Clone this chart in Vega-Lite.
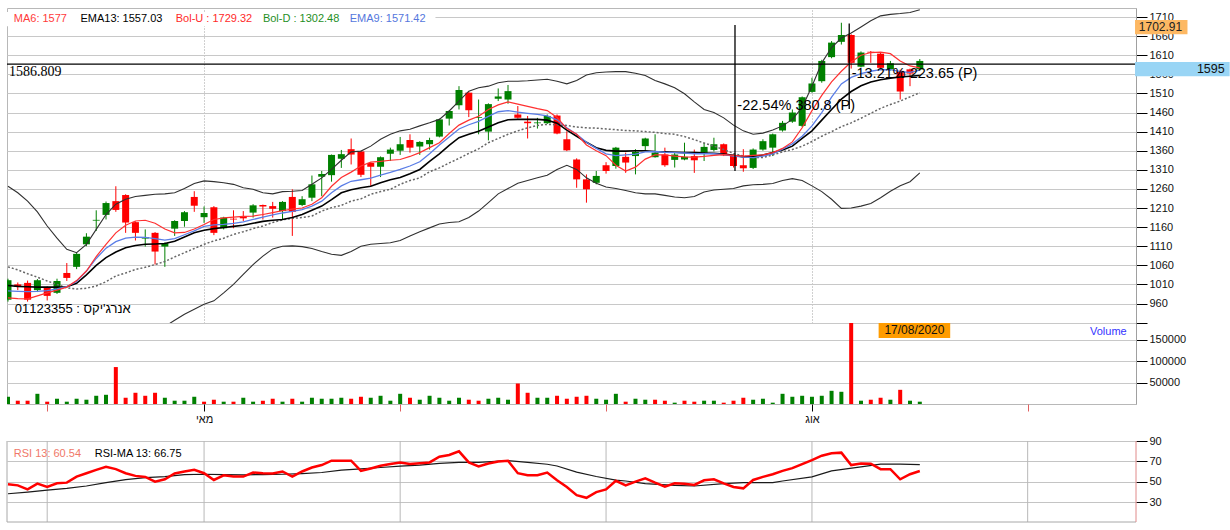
{
"$schema":"https://vega.github.io/schema/vega-lite/v6.json",
"background":"#ffffff",
"padding":{"left":2,"top":7,"right":0,"bottom":0},
"config":{"font":"Liberation Sans","view":{"stroke":"#b8b8b8"}},
"datasets":{
"one":[{"k":1}],
"bars":[
{"i":0,"o":970,"h":1025,"l":965,"c":1021,"v":16900,"vu":1},
{"i":1,"o":1010,"h":1015,"l":995,"c":1004,"v":7700,"vu":0},
{"i":2,"o":1014,"h":1020,"l":965,"c":970,"v":7700,"vu":0},
{"i":3,"o":995,"h":1024,"l":990,"c":1021,"v":23800,"vu":1},
{"i":4,"o":1001,"h":1005,"l":968,"c":980,"v":5400,"vu":0},
{"i":5,"o":988,"h":1025,"l":985,"c":1019,"v":12300,"vu":1},
{"i":6,"o":1040,"h":1066,"l":1019,"c":1027,"v":5400,"vu":1},
{"i":7,"o":1056,"h":1092,"l":1050,"c":1090,"v":12300,"vu":1},
{"i":8,"o":1115,"h":1144,"l":1110,"c":1135,"v":10000,"vu":1},
{"i":9,"o":1177,"h":1204,"l":1150,"c":1179,"v":19200,"vu":1},
{"i":10,"o":1192,"h":1227,"l":1180,"c":1223,"v":21500,"vu":1},
{"i":11,"o":1228,"h":1267,"l":1200,"c":1205,"v":86200,"vu":0},
{"i":12,"o":1244,"h":1246,"l":1145,"c":1172,"v":14600,"vu":0},
{"i":13,"o":1173,"h":1175,"l":1125,"c":1145,"v":26200,"vu":0},
{"i":14,"o":1130,"h":1154,"l":1109,"c":1134,"v":19200,"vu":0},
{"i":15,"o":1145,"h":1147,"l":1062,"c":1096,"v":26200,"vu":0},
{"i":16,"o":1109,"h":1120,"l":1056,"c":1118,"v":14600,"vu":1},
{"i":17,"o":1156,"h":1178,"l":1137,"c":1176,"v":7700,"vu":1},
{"i":18,"o":1176,"h":1202,"l":1161,"c":1199,"v":7700,"vu":1},
{"i":19,"o":1239,"h":1254,"l":1200,"c":1216,"v":16900,"vu":1},
{"i":20,"o":1186,"h":1214,"l":1171,"c":1197,"v":5400,"vu":0},
{"i":21,"o":1212,"h":1215,"l":1139,"c":1145,"v":10000,"vu":0},
{"i":22,"o":1157,"h":1187,"l":1154,"c":1185,"v":5400,"vu":1},
{"i":23,"o":1182,"h":1204,"l":1157,"c":1180,"v":5400,"vu":0},
{"i":24,"o":1189,"h":1202,"l":1176,"c":1183,"v":14600,"vu":1},
{"i":25,"o":1198,"h":1220,"l":1185,"c":1217,"v":5400,"vu":1},
{"i":26,"o":1218,"h":1219,"l":1180,"c":1214,"v":7700,"vu":0},
{"i":27,"o":1215,"h":1226,"l":1185,"c":1208,"v":12300,"vu":0},
{"i":28,"o":1202,"h":1228,"l":1180,"c":1226,"v":5400,"vu":1},
{"i":29,"o":1239,"h":1259,"l":1137,"c":1200,"v":12300,"vu":0},
{"i":30,"o":1218,"h":1241,"l":1215,"c":1233,"v":5400,"vu":1},
{"i":31,"o":1237,"h":1295,"l":1228,"c":1272,"v":14600,"vu":1},
{"i":32,"o":1292,"h":1307,"l":1241,"c":1299,"v":12300,"vu":1},
{"i":33,"o":1296,"h":1350,"l":1279,"c":1349,"v":12300,"vu":1},
{"i":34,"o":1339,"h":1362,"l":1315,"c":1351,"v":14600,"vu":1},
{"i":35,"o":1364,"h":1392,"l":1324,"c":1350,"v":12300,"vu":0},
{"i":36,"o":1358,"h":1360,"l":1291,"c":1297,"v":16900,"vu":0},
{"i":37,"o":1328,"h":1330,"l":1268,"c":1318,"v":14600,"vu":1},
{"i":38,"o":1318,"h":1345,"l":1291,"c":1343,"v":19200,"vu":1},
{"i":39,"o":1352,"h":1368,"l":1333,"c":1363,"v":7700,"vu":1},
{"i":40,"o":1360,"h":1396,"l":1349,"c":1377,"v":23800,"vu":1},
{"i":41,"o":1388,"h":1403,"l":1355,"c":1368,"v":14600,"vu":0},
{"i":42,"o":1371,"h":1385,"l":1349,"c":1383,"v":10000,"vu":1},
{"i":43,"o":1377,"h":1394,"l":1363,"c":1388,"v":19200,"vu":1},
{"i":44,"o":1397,"h":1444,"l":1395,"c":1442,"v":14600,"vu":1},
{"i":45,"o":1444,"h":1466,"l":1426,"c":1464,"v":7700,"vu":1},
{"i":46,"o":1479,"h":1529,"l":1468,"c":1519,"v":14600,"vu":1},
{"i":47,"o":1512,"h":1515,"l":1448,"c":1466,"v":10000,"vu":0},
{"i":48,"o":1446,"h":1494,"l":1403,"c":1448,"v":7700,"vu":0},
{"i":49,"o":1410,"h":1484,"l":1387,"c":1482,"v":12300,"vu":1},
{"i":50,"o":1496,"h":1523,"l":1490,"c":1502,"v":14600,"vu":1},
{"i":51,"o":1494,"h":1532,"l":1483,"c":1516,"v":10000,"vu":1},
{"i":52,"o":1455,"h":1477,"l":1444,"c":1446,"v":47700,"vu":0},
{"i":53,"o":1436,"h":1451,"l":1392,"c":1432,"v":26200,"vu":0},
{"i":54,"o":1432,"h":1446,"l":1418,"c":1434,"v":14600,"vu":1},
{"i":55,"o":1432,"h":1455,"l":1430,"c":1451,"v":14600,"vu":1},
{"i":56,"o":1452,"h":1455,"l":1403,"c":1405,"v":19200,"vu":0},
{"i":57,"o":1390,"h":1411,"l":1359,"c":1361,"v":12300,"vu":0},
{"i":58,"o":1337,"h":1340,"l":1263,"c":1285,"v":16900,"vu":0},
{"i":59,"o":1285,"h":1298,"l":1224,"c":1259,"v":19200,"vu":0},
{"i":60,"o":1276,"h":1307,"l":1272,"c":1294,"v":12300,"vu":1},
{"i":61,"o":1322,"h":1330,"l":1300,"c":1307,"v":10000,"vu":1},
{"i":62,"o":1320,"h":1370,"l":1313,"c":1368,"v":23800,"vu":1},
{"i":63,"o":1344,"h":1355,"l":1302,"c":1329,"v":5400,"vu":0},
{"i":64,"o":1346,"h":1364,"l":1298,"c":1357,"v":12300,"vu":1},
{"i":65,"o":1372,"h":1394,"l":1359,"c":1392,"v":10000,"vu":1},
{"i":66,"o":1343,"h":1403,"l":1342,"c":1355,"v":10000,"vu":0},
{"i":67,"o":1350,"h":1368,"l":1318,"c":1322,"v":7700,"vu":0},
{"i":68,"o":1336,"h":1355,"l":1316,"c":1350,"v":3100,"vu":1},
{"i":69,"o":1337,"h":1381,"l":1335,"c":1344,"v":7700,"vu":0},
{"i":70,"o":1346,"h":1363,"l":1302,"c":1335,"v":5400,"vu":0},
{"i":71,"o":1355,"h":1381,"l":1333,"c":1370,"v":7700,"vu":1},
{"i":72,"o":1362,"h":1394,"l":1358,"c":1377,"v":7700,"vu":1},
{"i":73,"o":1377,"h":1379,"l":1346,"c":1348,"v":3100,"vu":0},
{"i":74,"o":1348,"h":1350,"l":1316,"c":1320,"v":7700,"vu":0},
{"i":75,"o":1322,"h":1364,"l":1305,"c":1314,"v":14600,"vu":0},
{"i":76,"o":1315,"h":1366,"l":1312,"c":1363,"v":10000,"vu":1},
{"i":77,"o":1363,"h":1390,"l":1360,"c":1385,"v":12300,"vu":1},
{"i":78,"o":1368,"h":1405,"l":1346,"c":1403,"v":3100,"vu":1},
{"i":79,"o":1413,"h":1438,"l":1410,"c":1433,"v":23800,"vu":1},
{"i":80,"o":1436,"h":1468,"l":1433,"c":1460,"v":16900,"vu":1},
{"i":81,"o":1425,"h":1502,"l":1422,"c":1500,"v":19200,"vu":1},
{"i":82,"o":1514,"h":1551,"l":1512,"c":1536,"v":16900,"vu":1},
{"i":83,"o":1542,"h":1598,"l":1538,"c":1595,"v":19200,"vu":1},
{"i":84,"o":1605,"h":1647,"l":1602,"c":1643,"v":30800,"vu":1},
{"i":85,"o":1645,"h":1695,"l":1638,"c":1663,"v":28500,"vu":1},
{"i":86,"o":1663,"h":1665,"l":1575,"c":1590,"v":189000,"vu":0},
{"i":87,"o":1580,"h":1620,"l":1578,"c":1617,"v":7700,"vu":1},
{"i":88,"o":1619,"h":1621,"l":1590,"c":1617,"v":10000,"vu":0},
{"i":89,"o":1614,"h":1616,"l":1575,"c":1577,"v":14600,"vu":0},
{"i":90,"o":1573,"h":1595,"l":1570,"c":1589,"v":10000,"vu":1},
{"i":91,"o":1569,"h":1572,"l":1494,"c":1515,"v":33100,"vu":0},
{"i":92,"o":1573,"h":1575,"l":1529,"c":1562,"v":7700,"vu":1},
{"i":93,"o":1573,"h":1600,"l":1570,"c":1595,"v":5400,"vu":1}
],
"lines":[
{"i":0,"ma6":975,"ema9":993,"ema13":1007,"bbu":1267,"dot":1056},
{"i":1,"ma6":973,"ema9":992,"ema13":1005,"bbu":1250,"dot":1048},
{"i":2,"ma6":972,"ema9":991,"ema13":1004,"bbu":1228,"dot":1038},
{"i":3,"ma6":980,"ema9":992,"ema13":1003,"bbu":1200,"dot":1029},
{"i":4,"ma6":988,"ema9":994,"ema13":1003,"bbu":1163,"dot":1019},
{"i":5,"ma6":995,"ema9":998,"ema13":1003,"bbu":1131,"dot":1010},
{"i":6,"ma6":1003,"ema9":1004,"ema13":1004,"bbu":1102,"dot":1001},
{"i":7,"ma6":1020,"ema9":1018,"ema13":1013,"bbu":1093,"dot":998},
{"i":8,"ma6":1045,"ema9":1045,"ema13":1035,"bbu":1115,"dot":1000},
{"i":9,"ma6":1083,"ema9":1078,"ema13":1060,"bbu":1154,"dot":1006},
{"i":10,"ma6":1115,"ema9":1105,"ema13":1080,"bbu":1193,"dot":1017},
{"i":11,"ma6":1145,"ema9":1122,"ema13":1095,"bbu":1220,"dot":1032},
{"i":12,"ma6":1165,"ema9":1131,"ema13":1106,"bbu":1233,"dot":1040},
{"i":13,"ma6":1176,"ema9":1134,"ema13":1112,"bbu":1240,"dot":1049},
{"i":14,"ma6":1178,"ema9":1133,"ema13":1115,"bbu":1243,"dot":1055},
{"i":15,"ma6":1170,"ema9":1130,"ema13":1116,"bbu":1246,"dot":1062},
{"i":16,"ma6":1155,"ema9":1126,"ema13":1117,"bbu":1247,"bbl":900,"dot":1070},
{"i":17,"ma6":1145,"ema9":1130,"ema13":1123,"bbu":1250,"bbl":916,"dot":1082},
{"i":18,"ma6":1146,"ema9":1140,"ema13":1134,"bbu":1261,"bbl":932,"dot":1093},
{"i":19,"ma6":1155,"ema9":1150,"ema13":1145,"bbu":1274,"bbl":945,"dot":1104},
{"i":20,"ma6":1167,"ema9":1162,"ema13":1152,"bbu":1281,"bbl":958,"dot":1115},
{"i":21,"ma6":1180,"ema9":1166,"ema13":1156,"bbu":1279,"bbl":967,"dot":1124},
{"i":22,"ma6":1184,"ema9":1167,"ema13":1159,"bbu":1276,"bbl":988,"dot":1131},
{"i":23,"ma6":1186,"ema9":1170,"ema13":1162,"bbu":1272,"bbl":1010,"dot":1141},
{"i":24,"ma6":1188,"ema9":1174,"ema13":1165,"bbu":1263,"bbl":1036,"dot":1148},
{"i":25,"ma6":1189,"ema9":1180,"ema13":1170,"bbu":1259,"bbl":1062,"dot":1156},
{"i":26,"ma6":1193,"ema9":1186,"ema13":1175,"bbu":1250,"bbl":1084,"dot":1163},
{"i":27,"ma6":1198,"ema9":1192,"ema13":1178,"bbu":1247,"bbl":1103,"dot":1172},
{"i":28,"ma6":1203,"ema9":1197,"ema13":1180,"bbu":1253,"bbl":1110,"dot":1179},
{"i":29,"ma6":1207,"ema9":1201,"ema13":1185,"bbu":1254,"bbl":1111,"dot":1183},
{"i":30,"ma6":1210,"ema9":1206,"ema13":1193,"bbu":1256,"bbl":1109,"dot":1185},
{"i":31,"ma6":1220,"ema9":1215,"ema13":1204,"bbu":1272,"bbl":1104,"dot":1189},
{"i":32,"ma6":1237,"ema9":1228,"ema13":1215,"bbu":1289,"bbl":1096,"dot":1202},
{"i":33,"ma6":1267,"ema9":1250,"ema13":1232,"bbu":1311,"bbl":1089,"dot":1211},
{"i":34,"ma6":1290,"ema9":1268,"ema13":1250,"bbu":1335,"bbl":1086,"dot":1217},
{"i":35,"ma6":1304,"ema9":1280,"ema13":1258,"bbu":1357,"bbl":1096,"dot":1228},
{"i":36,"ma6":1320,"ema9":1284,"ema13":1263,"bbu":1359,"bbl":1110,"dot":1234},
{"i":37,"ma6":1330,"ema9":1288,"ema13":1267,"bbu":1372,"bbl":1115,"dot":1246},
{"i":38,"ma6":1332,"ema9":1296,"ema13":1276,"bbu":1390,"bbl":1117,"dot":1253},
{"i":39,"ma6":1335,"ema9":1303,"ema13":1284,"bbu":1403,"bbl":1119,"dot":1259},
{"i":40,"ma6":1337,"ema9":1311,"ema13":1290,"bbu":1412,"bbl":1125,"dot":1272},
{"i":41,"ma6":1345,"ema9":1320,"ema13":1300,"bbu":1416,"bbl":1137,"dot":1282},
{"i":42,"ma6":1355,"ema9":1331,"ema13":1311,"bbu":1425,"bbl":1148,"dot":1289},
{"i":43,"ma6":1368,"ema9":1352,"ema13":1332,"bbu":1433,"bbl":1158,"dot":1305},
{"i":44,"ma6":1381,"ema9":1375,"ema13":1352,"bbu":1442,"bbl":1168,"dot":1315},
{"i":45,"ma6":1405,"ema9":1396,"ema13":1374,"bbu":1464,"bbl":1172,"dot":1328},
{"i":46,"ma6":1427,"ema9":1417,"ema13":1394,"bbu":1490,"bbl":1174,"dot":1340},
{"i":47,"ma6":1440,"ema9":1428,"ema13":1403,"bbu":1516,"bbl":1185,"dot":1353},
{"i":48,"ma6":1450,"ema9":1437,"ema13":1411,"bbu":1525,"bbl":1202,"dot":1365},
{"i":49,"ma6":1468,"ema9":1450,"ema13":1422,"bbu":1529,"bbl":1224,"dot":1381},
{"i":50,"ma6":1480,"ema9":1462,"ema13":1433,"bbu":1538,"bbl":1247,"dot":1392},
{"i":51,"ma6":1488,"ema9":1465,"ema13":1441,"bbu":1542,"bbl":1261,"dot":1403},
{"i":52,"ma6":1482,"ema9":1461,"ema13":1442,"bbu":1542,"bbl":1275,"dot":1412},
{"i":53,"ma6":1476,"ema9":1458,"ema13":1442,"bbu":1543,"bbl":1282,"dot":1420},
{"i":54,"ma6":1470,"ema9":1455,"ema13":1442,"bbu":1545,"bbl":1289,"dot":1426},
{"i":55,"ma6":1465,"ema9":1451,"ema13":1440,"bbu":1547,"bbl":1296,"dot":1429},
{"i":56,"ma6":1447,"ema9":1441,"ema13":1432,"bbu":1542,"bbl":1311,"dot":1428},
{"i":57,"ma6":1418,"ema9":1420,"ema13":1414,"bbu":1535,"bbl":1322,"dot":1426},
{"i":58,"ma6":1403,"ema9":1403,"ema13":1398,"bbu":1544,"bbl":1311,"dot":1422},
{"i":59,"ma6":1375,"ema9":1382,"ema13":1382,"bbu":1558,"bbl":1289,"dot":1420},
{"i":60,"ma6":1360,"ema9":1366,"ema13":1368,"bbu":1564,"bbl":1275,"dot":1419},
{"i":61,"ma6":1347,"ema9":1352,"ema13":1361,"bbu":1566,"bbl":1265,"dot":1417},
{"i":62,"ma6":1322,"ema9":1347,"ema13":1359,"bbu":1567,"bbl":1261,"dot":1415},
{"i":63,"ma6":1307,"ema9":1349,"ema13":1359,"bbu":1567,"bbl":1256,"dot":1413},
{"i":64,"ma6":1317,"ema9":1351,"ema13":1360,"bbu":1563,"bbl":1250,"dot":1412},
{"i":65,"ma6":1338,"ema9":1357,"ema13":1360,"bbu":1557,"bbl":1247,"dot":1410},
{"i":66,"ma6":1349,"ema9":1358,"ema13":1358,"bbu":1544,"bbl":1247,"dot":1408},
{"i":67,"ma6":1349,"ema9":1356,"ema13":1357,"bbu":1535,"bbl":1243,"dot":1405},
{"i":68,"ma6":1346,"ema9":1355,"ema13":1356,"bbu":1525,"bbl":1239,"dot":1403},
{"i":69,"ma6":1344,"ema9":1354,"ema13":1355,"bbu":1509,"bbl":1237,"dot":1397},
{"i":70,"ma6":1343,"ema9":1352,"ema13":1355,"bbu":1488,"bbl":1240,"dot":1389},
{"i":71,"ma6":1345,"ema9":1352,"ema13":1354,"bbu":1468,"bbl":1252,"dot":1380},
{"i":72,"ma6":1348,"ema9":1352,"ema13":1353,"bbu":1460,"bbl":1257,"dot":1372},
{"i":73,"ma6":1350,"ema9":1350,"ema13":1351,"bbu":1446,"bbl":1259,"dot":1363},
{"i":74,"ma6":1348,"ema9":1346,"ema13":1348,"bbu":1427,"bbl":1261,"dot":1353},
{"i":75,"ma6":1346,"ema9":1343,"ema13":1344,"bbu":1412,"bbl":1268,"dot":1346},
{"i":76,"ma6":1348,"ema9":1342,"ema13":1345,"bbu":1403,"bbl":1271,"dot":1342},
{"i":77,"ma6":1349,"ema9":1346,"ema13":1349,"bbu":1406,"bbl":1272,"dot":1342},
{"i":78,"ma6":1355,"ema9":1352,"ema13":1355,"bbu":1414,"bbl":1274,"dot":1349},
{"i":79,"ma6":1366,"ema9":1364,"ema13":1362,"bbu":1425,"bbl":1282,"dot":1357},
{"i":80,"ma6":1383,"ema9":1378,"ema13":1372,"bbu":1442,"bbl":1287,"dot":1363},
{"i":81,"ma6":1420,"ema9":1398,"ema13":1392,"bbu":1473,"bbl":1282,"dot":1372},
{"i":82,"ma6":1465,"ema9":1425,"ema13":1412,"bbu":1529,"bbl":1268,"dot":1384},
{"i":83,"ma6":1505,"ema9":1460,"ema13":1440,"bbu":1590,"bbl":1253,"dot":1398},
{"i":84,"ma6":1540,"ema9":1500,"ema13":1468,"bbu":1630,"bbl":1233,"dot":1410},
{"i":85,"ma6":1568,"ema9":1535,"ema13":1495,"bbu":1655,"bbl":1209,"dot":1423},
{"i":86,"ma6":1592,"ema9":1552,"ema13":1515,"bbu":1668,"bbl":1210,"dot":1433},
{"i":87,"ma6":1610,"ema9":1562,"ema13":1530,"bbu":1684,"bbl":1215,"dot":1445},
{"i":88,"ma6":1617,"ema9":1568,"ema13":1540,"bbu":1700,"bbl":1222,"dot":1458},
{"i":89,"ma6":1618,"ema9":1572,"ema13":1546,"bbu":1713,"bbl":1237,"dot":1471},
{"i":90,"ma6":1614,"ema9":1572,"ema13":1550,"bbu":1717,"bbl":1254,"dot":1481},
{"i":91,"ma6":1595,"ema9":1567,"ema13":1553,"bbu":1719,"bbl":1268,"dot":1490},
{"i":92,"ma6":1582,"ema9":1565,"ema13":1555,"bbu":1722,"bbl":1279,"dot":1501},
{"i":93,"ma6":1577,"ema9":1571,"ema13":1557,"bbu":1729,"bbl":1302,"dot":1512}
],
"rsi":[
{"i":0,"r":47.5},{"i":1,"r":46.5},{"i":2,"r":42.6},{"i":3,"r":48.2},{"i":4,"r":44.9},{"i":5,"r":48.5},{"i":6,"r":49.2},{"i":7,"r":55.1},{"i":8,"r":58.4},{"i":9,"r":61.7},
{"i":10,"r":64.7},{"i":11,"r":62.4},{"i":12,"r":58.4},{"i":13,"r":55.8},{"i":14,"r":54.8},{"i":15,"r":50.2},{"i":16,"r":52.5},{"i":17,"r":58.1},{"i":18,"r":60.1},{"i":19,"r":61.7},
{"i":20,"r":58.4},{"i":21,"r":51.8},{"i":22,"r":56.4},{"i":23,"r":55.1},{"i":24,"r":55.1},{"i":25,"r":59.1},{"i":26,"r":58.4},{"i":27,"r":58.1},{"i":28,"r":60.1},{"i":29,"r":55.1},
{"i":30,"r":60.1},{"i":31,"r":64},{"i":32,"r":66.4},{"i":33,"r":70.7},{"i":34,"r":70.7},{"i":35,"r":70.7},{"i":36,"r":60.7},{"i":37,"r":63.1},{"i":38,"r":65.7},{"i":39,"r":67.4},
{"i":40,"r":69},{"i":41,"r":67.4},{"i":42,"r":68.3},{"i":43,"r":69},{"i":44,"r":74.6},{"i":45,"r":76.3},{"i":46,"r":79.9},{"i":47,"r":69},{"i":48,"r":65},{"i":49,"r":68},
{"i":50,"r":70},{"i":51,"r":70.7},{"i":52,"r":58.4},{"i":53,"r":56.4},{"i":54,"r":56.4},{"i":55,"r":59.1},{"i":56,"r":51.5},{"i":57,"r":44.9},{"i":58,"r":36.9},{"i":59,"r":34.3},
{"i":60,"r":39.9},{"i":61,"r":42.6},{"i":62,"r":51},{"i":63,"r":46.5},{"i":64,"r":50.2},{"i":65,"r":53.5},{"i":66,"r":49.2},{"i":67,"r":45.2},{"i":68,"r":48.5},{"i":69,"r":48.2},
{"i":70,"r":46.9},{"i":71,"r":51.5},{"i":72,"r":52.5},{"i":73,"r":48.5},{"i":74,"r":44.9},{"i":75,"r":43.6},{"i":76,"r":51.8},{"i":77,"r":54.8},{"i":78,"r":57.4},{"i":79,"r":60.7},
{"i":80,"r":63.4},{"i":81,"r":67.4},{"i":82,"r":71.3},{"i":83,"r":75.6},{"i":84,"r":77.9},{"i":85,"r":78.6},{"i":86,"r":66.4},{"i":87,"r":68},{"i":88,"r":67.7},{"i":89,"r":62.4},
{"i":90,"r":62.4},{"i":91,"r":52.5},{"i":92,"r":57.4},{"i":93,"r":60.54}
],
"rsima":[
{"i":0,"m":38.3},{"i":2,"m":39.9},{"i":4,"m":41.9},{"i":6,"m":43.6},{"i":8,"m":45.9},{"i":10,"m":49.2},{"i":12,"m":52.1},{"i":14,"m":54.1},{"i":16,"m":55.1},{"i":18,"m":57.1},
{"i":20,"m":57.4},{"i":22,"m":57.1},{"i":24,"m":56.8},{"i":26,"m":57.1},{"i":28,"m":57.4},{"i":30,"m":58.1},{"i":32,"m":59.1},{"i":34,"m":61.4},{"i":36,"m":62.7},{"i":38,"m":64},
{"i":40,"m":65.4},{"i":42,"m":66.4},{"i":44,"m":68},{"i":46,"m":69},{"i":48,"m":69},{"i":51,"m":70.7},{"i":53,"m":69},{"i":55,"m":67.2},{"i":56,"m":65.5},{"i":58,"m":59.5},
{"i":60,"m":55.2},{"i":62,"m":51.7},{"i":63,"m":50.8},{"i":65,"m":48.2},{"i":68,"m":46.5},{"i":70,"m":45.9},{"i":73,"m":48.2},{"i":75,"m":49.2},{"i":78,"m":49.2},{"i":79,"m":50.8},
{"i":82,"m":54.8},{"i":84,"m":60.7},{"i":87,"m":64.7},{"i":89,"m":67.4},{"i":91,"m":67.4},{"i":93,"m":66.75}
],
"months":[{"i":4},{"i":20},{"i":40},{"i":61},{"i":82},{"i":104}]
},
"vconcat":[
{
"width":1129,"height":315,
"layer":[
{"data":{"name":"bars"},"mark":{"type":"rule","strokeWidth":1,"clip":true},
"encoding":{
"x":{"field":"i","type":"quantitative","scale":{"domain":[-0.1,115.05],"nice":false,"zero":false,"padding":0},
 "axis":{"orient":"top","values":[20,82],"tickCount":100,"grid":true,"gridDash":[1,2],"gridColor":"#a0a0a0","labels":false,"ticks":false,"domain":false,"title":null}},
"y":{"field":"l","type":"quantitative","scale":{"domain":[909,1733.6],"nice":false,"zero":false,"padding":0},
 "axis":{"orient":"right","values":[960,1010,1060,1110,1160,1210,1260,1310,1360,1410,1460,1510,1560,1610,1660,1710],"tickCount":100,"format":"d","grid":true,"gridColor":"#c8c8c8","tickColor":"#000","tickSize":11,"labelPadding":2,"labelFontSize":11,"labelColor":"#111","labelOverlap":false,"labelBound":false,"domainColor":"#a0a0a0","title":null}},
"y2":{"field":"h"},
"color":{"condition":{"test":"datum.c >= datum.o","value":"#008000"},"value":"#ff0000"}}},
{"data":{"name":"one"},"mark":{"type":"rect","color":"#ffffff"},"encoding":{"x":{"datum":-0.1},"x2":{"datum":43.6},"y":{"datum":1686},"y2":{"datum":1723}}},
{"data":{"name":"bars"},"mark":{"type":"bar","size":7,"orient":"vertical","clip":true},
"encoding":{"x":{"field":"i","type":"quantitative"},"y":{"field":"o","type":"quantitative"},"y2":{"field":"c"},
"color":{"condition":{"test":"datum.c >= datum.o","value":"#008000"},"value":"#ff0000"}}},
{"data":{"name":"lines"},"mark":{"type":"line","color":"#666666","strokeWidth":1.5,"strokeDash":[2,2],"clip":true},"encoding":{"x":{"field":"i","type":"quantitative"},"y":{"field":"dot","type":"quantitative"}}},
{"data":{"name":"lines"},"mark":{"type":"line","color":"#303030","strokeWidth":1.1,"clip":true},"encoding":{"x":{"field":"i","type":"quantitative"},"y":{"field":"bbu","type":"quantitative"}}},
{"data":{"name":"lines"},"transform":[{"filter":"isValid(datum.bbl)"}],"mark":{"type":"line","color":"#303030","strokeWidth":1.1,"clip":true},"encoding":{"x":{"field":"i","type":"quantitative"},"y":{"field":"bbl","type":"quantitative"}}},
{"data":{"name":"lines"},"mark":{"type":"line","color":"#000000","strokeWidth":1.6,"clip":true},"encoding":{"x":{"field":"i","type":"quantitative"},"y":{"field":"ema13","type":"quantitative"}}},
{"data":{"name":"lines"},"mark":{"type":"line","color":"#5a7de6","strokeWidth":1.3,"clip":true},"encoding":{"x":{"field":"i","type":"quantitative"},"y":{"field":"ema9","type":"quantitative"}}},
{"data":{"name":"lines"},"mark":{"type":"line","color":"#ff3030","strokeWidth":1.2,"clip":true},"encoding":{"x":{"field":"i","type":"quantitative"},"y":{"field":"ma6","type":"quantitative"}}},
{"data":{"name":"one"},"mark":{"type":"rule","color":"#000000","strokeWidth":1.3},"encoding":{"y":{"datum":1586.809}}},
{"data":{"name":"one"},"mark":{"type":"rule","color":"#000000","strokeWidth":1.3},"encoding":{"x":{"datum":74.15},"y":{"datum":1689},"y2":{"datum":1307}}},
{"data":{"name":"one"},"mark":{"type":"rule","color":"#000000","strokeWidth":1.3},"encoding":{"x":{"datum":85.8},"y":{"datum":1693},"y2":{"datum":1469}}},
{"data":{"name":"one"},"mark":{"type":"text","text":"MA6: 1577","color":"#ff3b3b","fontSize":11,"align":"left","baseline":"middle"},"encoding":{"x":{"datum":0.59},"y":{"datum":1704.2}}},
{"data":{"name":"one"},"mark":{"type":"text","text":"EMA13: 1557.03","color":"#000000","fontSize":11,"align":"left","baseline":"middle"},"encoding":{"x":{"datum":7.39},"y":{"datum":1704.2}}},
{"data":{"name":"one"},"mark":{"type":"text","text":"Bol-U : 1729.32","color":"#ff2a2a","fontSize":11,"align":"left","baseline":"middle"},"encoding":{"x":{"datum":17.11},"y":{"datum":1704.2}}},
{"data":{"name":"one"},"mark":{"type":"text","text":"Bol-D : 1302.48","color":"#1f8f1f","fontSize":11,"align":"left","baseline":"middle"},"encoding":{"x":{"datum":26.0},"y":{"datum":1704.2}}},
{"data":{"name":"one"},"mark":{"type":"text","text":"EMA9: 1571.42","color":"#5577dd","fontSize":11,"align":"left","baseline":"middle"},"encoding":{"x":{"datum":34.86},"y":{"datum":1704.2}}},
{"data":{"name":"one"},"mark":{"type":"text","text":"1586.809","font":"Liberation Serif","color":"#000000","fontSize":14,"align":"left","baseline":"middle"},"encoding":{"x":{"datum":0.1},"y":{"datum":1565}}},
{"data":{"name":"one"},"mark":{"type":"text","text":"01123355 : אנרג'יקס","color":"#000000","fontSize":13,"align":"left","baseline":"middle"},"encoding":{"x":{"datum":0.7},"y":{"datum":946}}},
{"data":{"name":"one"},"mark":{"type":"text","text":"-22.54% 380.8 (P)","color":"#000000","fontSize":14.5,"align":"left","baseline":"middle"},"encoding":{"x":{"datum":74.39},"y":{"datum":1476}}},
{"data":{"name":"one"},"mark":{"type":"text","text":"-13.21% 223.65 (P)","color":"#000000","fontSize":14.5,"align":"left","baseline":"middle"},"encoding":{"x":{"datum":86.05},"y":{"datum":1560}}},
{"data":{"name":"one"},"mark":{"type":"rect","color":"#fdb863"},"encoding":{"x":{"datum":114.95},"x2":{"datum":120.3},"y":{"datum":1702},"y2":{"datum":1665}}},
{"data":{"name":"one"},"mark":{"type":"text","text":"1702.91","color":"#222222","fontSize":12,"align":"center","baseline":"middle"},"encoding":{"x":{"datum":117.55},"y":{"datum":1683.5}}},
{"data":{"name":"one"},"mark":{"type":"rect","color":"#99d5f5"},"encoding":{"x":{"datum":114.95},"x2":{"datum":124.6},"y":{"datum":1592},"y2":{"datum":1555}}},
{"data":{"name":"one"},"mark":{"type":"text","text":"1595","color":"#111111","fontSize":12.5,"align":"right","baseline":"middle"},"encoding":{"x":{"datum":124.1},"y":{"datum":1573.5}}}
]
},
{
"width":1129,"height":81,
"layer":[
{"data":{"name":"bars"},"mark":{"type":"bar","size":4,"orient":"vertical","clip":true},
"encoding":{
"x":{"field":"i","type":"quantitative","scale":{"domain":[-0.1,115.05],"nice":false,"zero":false,"padding":0},
 "axis":{"orient":"bottom","values":[4,20,40,61,82,104],"tickCount":100,"labelExpr":"datum.value == 20 ? 'מאי' : (datum.value == 82 ? 'אוג' : '')","grid":false,"domain":false,"tickSize":7,"tickColor":{"condition":{"test":"datum.value == 20 || datum.value == 82","value":"#000000"},"value":"#e06060"},"labelFontSize":11,"labelColor":"#111","labelPadding":2,"labelOverlap":false,"labelBound":false,"labelFlush":false,"title":null}},
"y":{"field":"v","type":"quantitative","stack":null,"scale":{"domain":[0,189000],"nice":false,"zero":true,"padding":0},
 "axis":{"orient":"right","values":[50000,100000,150000,189000],"tickCount":100,"format":"d","labelExpr":"datum.value > 160000 ? '' : datum.label","grid":true,"gridColor":"#c8c8c8","tickColor":"#000","tickSize":11,"labelPadding":2,"labelFontSize":11,"labelColor":"#111","labelOverlap":false,"labelBound":false,"domainColor":"#a0a0a0","title":null}},
"color":{"condition":{"test":"datum.vu == 1","value":"#008000"},"value":"#ff0000"}}},
{"data":{"name":"one"},"mark":{"type":"rect","color":"#ff9c00"},"encoding":{"x":{"datum":88.8},"x2":{"datum":96.1},"y":{"datum":189000},"y2":{"datum":154000}}},
{"data":{"name":"one"},"mark":{"type":"text","text":"17/08/2020","color":"#111111","fontSize":12,"align":"center","baseline":"middle"},"encoding":{"x":{"datum":92.45},"y":{"datum":172000}}},
{"data":{"name":"one"},"mark":{"type":"text","text":"Volume","color":"#3333ff","fontSize":11,"align":"right","baseline":"middle"},"encoding":{"x":{"datum":114.1},"y":{"datum":168000}}}
]
},
{
"width":1129,"height":118,
"view":{"stroke":null},
"layer":[
{"data":{"name":"months"},"mark":{"type":"rule","color":"#b8b8b8","strokeWidth":1},
"encoding":{
"x":{"field":"i","type":"quantitative","scale":{"domain":[-0.1,115.05],"nice":false,"zero":false,"padding":0},"axis":null},
"y":{"datum":10.6,"type":"quantitative","scale":{"domain":[10.6,126.27],"nice":false,"zero":false,"padding":0},
 "axis":{"orient":"right","values":[30,50,70,90],"tickCount":100,"format":"d","grid":true,"gridColor":"#c4c4c4","domain":false,"tickColor":"#000","tickSize":11,"labelPadding":2,"labelFontSize":11,"labelColor":"#111","labelOverlap":false,"labelBound":false,"title":null}},
"y2":{"datum":90}}},
{"data":{"name":"one"},"mark":{"type":"rule","color":"#a8a8a8"},"encoding":{"x":{"datum":-0.1,"axis":null},"y":{"datum":10.6},"y2":{"datum":90}}},
{"data":{"name":"one"},"mark":{"type":"rule","color":"#a8a8a8"},"encoding":{"x":{"datum":-0.1,"axis":null},"x2":{"datum":115.05},"y":{"datum":10.6}}},
{"data":{"name":"one"},"mark":{"type":"rule","color":"#e08a8a"},"encoding":{"x":{"datum":115.05,"axis":null},"y":{"datum":10.6},"y2":{"datum":90}}},
{"data":{"name":"rsima"},"mark":{"type":"line","color":"#1a1a1a","strokeWidth":1.2},"encoding":{"x":{"field":"i","type":"quantitative","axis":null},"y":{"field":"m","type":"quantitative"}}},
{"data":{"name":"rsi"},"mark":{"type":"line","color":"#ff0000","strokeWidth":2.5},"encoding":{"x":{"field":"i","type":"quantitative","axis":null},"y":{"field":"r","type":"quantitative"}}},
{"data":{"name":"one"},"mark":{"type":"text","text":"RSI 13: 60.54","color":"#f07868","fontSize":11,"align":"left","baseline":"middle"},"encoding":{"x":{"datum":0.59,"axis":null},"y":{"datum":77.3}}},
{"data":{"name":"one"},"mark":{"type":"text","text":"RSI-MA 13: 66.75","color":"#000000","fontSize":11,"align":"left","baseline":"middle"},"encoding":{"x":{"datum":8.85,"axis":null},"y":{"datum":77.3}}}
]
}
],
"spacing":0,
"bounds":"flush",
"resolve":{"scale":{"x":"independent","y":"independent"}}
}
